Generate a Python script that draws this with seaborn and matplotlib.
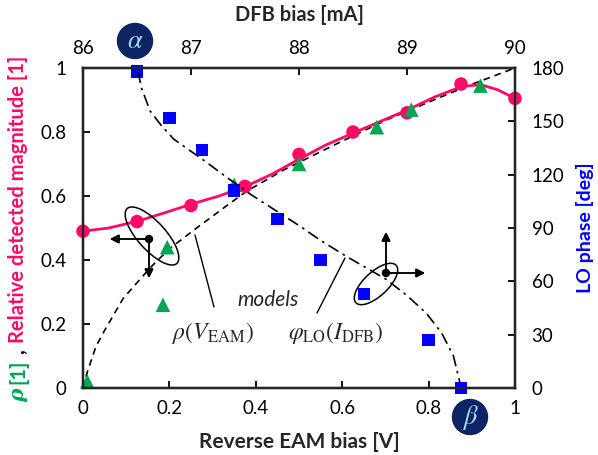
import seaborn as sns
import matplotlib.pyplot as plt
from matplotlib.patches import Ellipse, Circle

eam_bias = [0.0, 0.125, 0.25, 0.375, 0.5, 0.625, 0.75, 0.875, 1.0]
rel_mag = [0.49, 0.52, 0.57, 0.63, 0.73, 0.80, 0.86, 0.95, 0.905]

rho_bias = [0.01, 0.185, 0.195, 0.35, 0.5, 0.68, 0.76, 0.92]
rho_meas = [0.02, 0.26, 0.44, 0.635, 0.70, 0.815, 0.87, 0.945]

dfb_bias = [86.5, 86.8, 87.1, 87.4, 87.8, 88.2, 88.6, 89.2, 89.5]
lo_phase = [178, 152, 134, 111, 95, 72, 53, 27, 0]

# smooth fit through the magnitude points
mag_fit_x = [0.0, 0.06, 0.128, 0.19, 0.252, 0.315, 0.377, 0.44, 0.5, 0.563,
             0.626, 0.69, 0.751, 0.815, 0.877, 0.92, 0.96, 1.0]
mag_fit_y = [0.49, 0.50, 0.522, 0.548, 0.575, 0.60, 0.63, 0.67, 0.715, 0.76,
             0.797, 0.834, 0.869, 0.91, 0.942, 0.948, 0.932, 0.905]

# models
rho_model_x = [0.0, 0.01, 0.03, 0.05, 0.093, 0.155, 0.2, 0.263, 0.333, 0.379,
               0.464, 0.587, 0.703, 0.819, 0.896, 1.0]
rho_model_y = [0.0, 0.05, 0.13, 0.18, 0.28, 0.375, 0.435, 0.5, 0.57, 0.615,
               0.681, 0.763, 0.838, 0.904, 0.947, 1.0]

phase_model_x = [86.51, 86.54, 86.62, 86.72, 86.84, 87.12, 87.32, 87.55, 87.78, 88.01,
                 88.2, 88.44, 88.64, 88.81, 89.0, 89.18, 89.32, 89.43, 89.49]
phase_model_y = [178, 169, 156, 148, 140, 128, 119, 109, 100, 91,
                 83, 74, 67, 61, 52, 42, 31, 18, 3]

pink = '#FF0A66'
green = '#00A651'
blue = '#0000FF'
navy = '#0C2463'

sns.set_style('ticks')
plt.rcParams['font.family'] = ['Lato', 'DejaVu Sans']
plt.rcParams['mathtext.fontset'] = 'stix'
plt.rcParams['axes.linewidth'] = 1.6

W, H = 598, 455
fig = plt.figure(figsize=(W / 100, H / 100), dpi=100)
ax = fig.add_axes([83 / W, 1 - 388 / H, 432 / W, 320 / H])
ax2 = ax.twinx()
ax3 = ax2.twiny()

# left / bottom axes: magnitude and rho
sns.lineplot(x=rho_model_x, y=rho_model_y, ax=ax, color='black', lw=1.2,
             linestyle=(0, (4, 3)), sort=False, estimator=None, zorder=2)
sns.lineplot(x=mag_fit_x, y=mag_fit_y, ax=ax, color=pink, lw=2.0,
             sort=False, estimator=None, zorder=3)
sns.scatterplot(x=eam_bias, y=rel_mag, ax=ax, color=pink, s=95, marker='o',
                edgecolor='none', zorder=4, clip_on=False)
sns.scatterplot(x=rho_bias, y=rho_meas, ax=ax, color=green, s=110, marker='^',
                edgecolor='none', zorder=4, clip_on=False)

# top / right axes: LO phase vs DFB bias
sns.lineplot(x=phase_model_x, y=phase_model_y, ax=ax3, color='black', lw=1.2,
             linestyle=(0, (7, 3, 1.5, 3)), sort=False, estimator=None)
sns.scatterplot(x=dfb_bias, y=lo_phase, ax=ax3, color=blue, s=80, marker='s',
                edgecolor='none', clip_on=False)

ax.set_xlim(0, 1)
ax.set_ylim(0, 1)
ax2.set_ylim(0, 180)
ax3.set_xlim(86, 90)

ax.set_xticks([0, 0.2, 0.4, 0.6, 0.8, 1])
ax.set_xticklabels(['0', '0.2', '0.4', '0.6', '0.8', '1'])
ax.set_yticks([0, 0.2, 0.4, 0.6, 0.8, 1])
ax.set_yticklabels(['0', '0.2', '0.4', '0.6', '0.8', '1'])
ax2.set_yticks(range(0, 181, 30))
ax3.set_xticks([86, 87, 88, 89, 90])

tick_kw = dict(direction='in', length=5, width=1.3, labelsize=13.5, colors='black')
ax.tick_params(axis='x', pad=9, **tick_kw)
ax.tick_params(axis='y', pad=12, **tick_kw)
ax2.tick_params(axis='y', pad=12, **tick_kw)
ax3.tick_params(axis='x', pad=8, **tick_kw)
for a in (ax, ax2, ax3):
    a.set_xlabel('')
    a.set_ylabel('')
    for sp in a.spines.values():
        sp.set_linewidth(1.6)

fig.text(299 / W, 1 - 15 / H, 'DFB bias [mA]', ha='center', va='center',
         fontsize=14.5, weight='bold')
fig.text(299 / W, 1 - 442 / H, 'Reverse EAM bias [V]', ha='center', va='center',
         fontsize=15, weight='bold')
fig.text(585 / W, 1 - 228 / H, 'LO phase [deg]', rotation=90, ha='center', va='center',
         color=blue, fontsize=14, weight='bold')

# multi-colour left label, stacked bottom to top
lab_kw = dict(fontsize=14.5, weight='bold')
pieces = [('ρ', green, dict(family='DejaVu Serif', style='italic', weight='bold', fontsize=14.5)),
          ('[1]', green, lab_kw),
          (',', 'black', lab_kw),
          ('Relative detected magnitude [1]', pink, lab_kw)]
gaps = [5, 5, 6]
texts = [fig.text(18 / W, 0, s, rotation=90, ha='center', va='bottom', color=c, **kw)
         for s, c, kw in pieces]
fig.canvas.draw()
r = fig.canvas.get_renderer()
heights = [t.get_window_extent(r).height for t in texts]
ybot = (H - 229) - (sum(heights) + sum(gaps)) / 2
for i, t in enumerate(texts):
    t.set_position((18 / W, ybot / H))
    ybot += heights[i] + (gaps[i] if i < len(gaps) else 0)

# annotations, positioned in figure pixels (y from top)
def inch(x, y):
    return (x / 100, (H - y) / 100)

tr = fig.dpi_scale_trans
fig.add_artist(Ellipse(inch(152, 236), 0.74, 0.28, angle=-48, fill=False,
                       lw=1.1, color='black', transform=tr))
fig.add_artist(Ellipse(inch(376, 284), 0.55, 0.24, angle=43, fill=False,
                       lw=1.1, color='black', transform=tr))
fig.add_artist(Circle(inch(149, 239), 0.035, color='black', transform=tr))
fig.add_artist(Circle(inch(386, 273), 0.035, color='black', transform=tr))

arrow = dict(arrowstyle='-|>', color='black', lw=1.1, mutation_scale=13,
             shrinkA=0, shrinkB=0)
for start, end in [((149, 239), (110, 239)), ((149, 239), (149, 278)),
                   ((386, 273), (386, 232)), ((386, 273), (425, 273))]:
    fig.add_artist(plt.annotate('', xy=(end[0], H - end[1]), xycoords='figure pixels',
                                xytext=(start[0], H - start[1]), textcoords='figure pixels',
                                arrowprops=arrow))

for (x0, y0), (x1, y1) in [((195, 235), (214, 307)), ((317, 313), (345, 258))]:
    fig.add_artist(plt.Line2D([x0 / W, x1 / W], [1 - y0 / H, 1 - y1 / H],
                              color='black', lw=1.0))

fig.text(268 / W, 1 - 300 / H, 'models', style='italic', fontsize=15,
         ha='center', va='center')
fig.text(213 / W, 1 - 333 / H, r'$\rho(V_{\mathrm{EAM}})$', fontsize=17,
         ha='center', va='center')
fig.text(336 / W, 1 - 333 / H, r'$\varphi_{\mathrm{LO}}(I_{\mathrm{DFB}})$', fontsize=17,
         ha='center', va='center')

# alpha / beta badges
for (bx, by), g in [((135, 41), r'$\alpha$'), ((470, 417), r'$\beta$')]:
    fig.add_artist(Circle(inch(bx, by), 0.175, color=navy, transform=tr, zorder=10))
    fig.text(bx / W, 1 - by / H, g, fontsize=19, color='#A9D6F2', ha='center',
             va='center', zorder=11)

fig.savefig('out.png', dpi=100)
